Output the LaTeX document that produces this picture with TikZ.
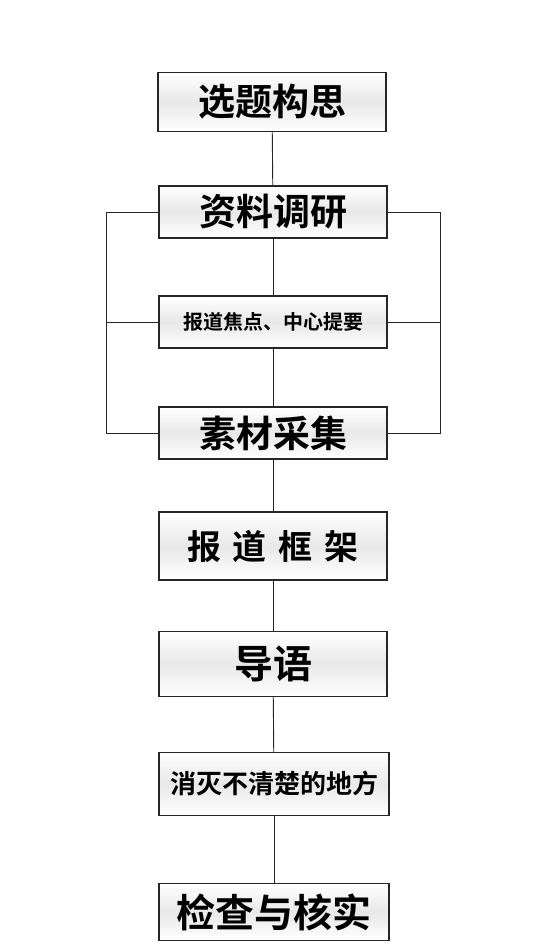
\documentclass[tikz,border=0pt]{standalone}
\usepackage{fontspec}
\setmainfont{Noto Sans CJK SC}[BoldFont={Noto Sans CJK SC Bold}]
\tikzset{
  stage/.style={draw=black!85, line width=1.1pt, shape=rectangle, minimum width=228pt,
    inner sep=0pt, top color=white, bottom color=white, middle color=gray!18,
    font=\bfseries},
  link/.style={draw=black!85, line width=0.9pt}
}
\begin{document}
\begin{tikzpicture}[x=1pt,y=-1pt]
\useasboundingbox (0,0) rectangle (550,946);

\node (xuanti) [stage,minimum height=59pt] at (272,102) {\fontsize{37}{40}\selectfont 选题构思};
\node (ziliao) [stage,minimum height=52pt] at (273,212) {\fontsize{37}{40}\selectfont 资料调研};
\node (jiaodian) [stage,minimum height=52pt] at (273,322) {\fontsize{20}{24}\selectfont 报道焦点、中心提要};
\node (sucai) [stage,minimum height=52pt] at (273,433) {\fontsize{37}{40}\selectfont 素材采集};
\node (kuangjia) [stage,minimum height=68pt] at (273,546) {\fontsize{34}{38}\selectfont 报\hspace{12pt}道\hspace{12pt}框\hspace{12pt}架};
\node (daoyu) [stage,minimum height=65pt] at (273,664) {\fontsize{39}{42}\selectfont 导语};
\node (xiaomie) [stage,minimum height=63pt,minimum width=230pt] at (274,784) {\fontsize{26}{30}\selectfont 消灭不清楚的地方};
\node (jiancha) [stage,minimum height=57pt,minimum width=230pt] at (274,912) {\fontsize{39}{42}\selectfont 检查与核实};

\coordinate (leftbus) at (106,0);
\coordinate (rightbus) at (440,0);

\draw[link] (xuanti) -- (ziliao);
\draw[link] (ziliao) -- (jiaodian);
\draw[link] (jiaodian) -- (sucai);
\draw[link] (sucai) -- (kuangjia);
\draw[link] (kuangjia) -- (daoyu);
\draw[link] (daoyu) -- (xiaomie);
\draw[link] (xiaomie) -- (jiancha);

\draw[link] (ziliao.west) -- (ziliao.west -| leftbus) -- (sucai.west -| leftbus) -- (sucai.west);
\draw[link] (jiaodian.west) -- (jiaodian.west -| leftbus);
\draw[link] (ziliao.east) -- (ziliao.east -| rightbus) -- (sucai.east -| rightbus) -- (sucai.east);
\draw[link] (jiaodian.east) -- (jiaodian.east -| rightbus);

\end{tikzpicture}
\end{document}
